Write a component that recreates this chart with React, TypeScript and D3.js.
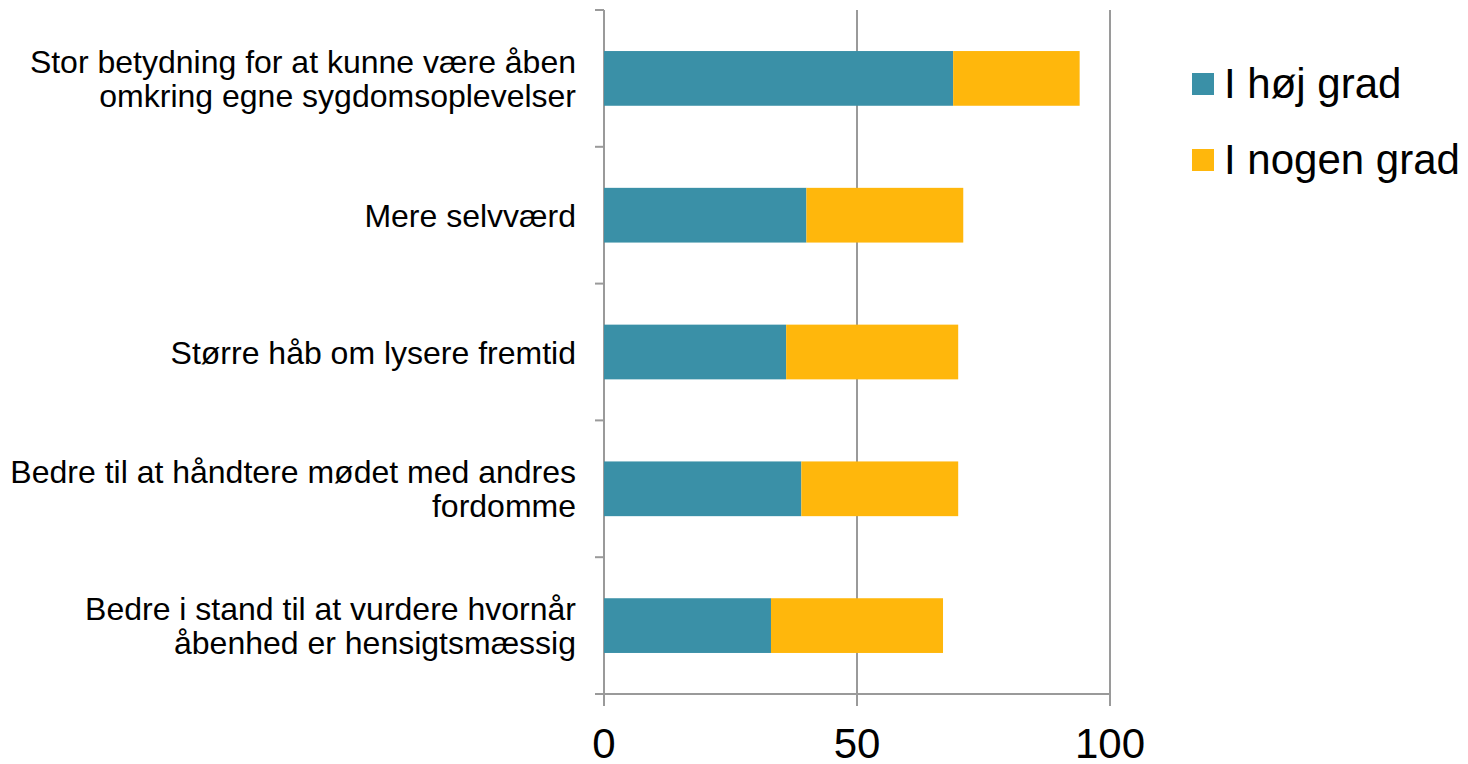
import React from "react";
import * as d3 from "d3";

const categories: string[][] = [
  ["Stor betydning for at kunne være åben", "omkring egne sygdomsoplevelser"],
  ["Mere selvværd"],
  ["Større håb om lysere fremtid"],
  ["Bedre til at håndtere mødet med andres", "fordomme"],
  ["Bedre i stand til at vurdere hvornår", "åbenhed er hensigtsmæssig"],
];
const hojGrad = [69, 40, 36, 39, 33];
const nogenGrad = [25, 31, 34, 31, 34];
const seriesNames = ["I høj grad", "I nogen grad"];
const seriesColors = ["#3A90A7", "#FFB70C"];
const xTicks = [0, 50, 100];

const W = 1468;
const H = 764;
const left = 604;
const right = 1110;
const top = 10;
const bottom = 694;
const FONT = "Liberation Sans, Arial, sans-serif";
const GRID = "#9a9a9a";

export default function App() {
  const x = d3.scaleLinear().domain([0, 100]).range([left, right]);
  const y = d3
    .scaleBand<number>()
    .domain(d3.range(categories.length))
    .range([top, bottom])
    .paddingInner(0.6)
    .paddingOuter(0.3);
  const band = (bottom - top) / categories.length;
  const boundaries = d3.range(categories.length + 1).map((i) => top + i * band);

  return (
    <svg
      width={W}
      height={H}
      style={{ position: "absolute", left: 0, top: 0, background: "#fff" }}
      fontFamily={FONT}
    >
      {/* gridlines */}
      {xTicks.map((t) => (
        <line key={"g" + t} x1={x(t)} x2={x(t)} y1={top} y2={bottom + 12} stroke={GRID} strokeWidth={2} />
      ))}
      {/* y axis ticks */}
      {boundaries.map((b, i) => (
        <line key={"yt" + i} x1={left - 9} x2={left} y1={b} y2={b} stroke={GRID} strokeWidth={2} />
      ))}
      {/* x axis line */}
      <line x1={left - 9} x2={right} y1={bottom} y2={bottom} stroke={GRID} strokeWidth={2} />
      {/* bars */}
      {categories.map((_, i) => {
        const y0 = y(i)!;
        const bh = y.bandwidth();
        return (
          <g key={"b" + i}>
            <rect x={x(0)} y={y0} width={x(hojGrad[i]) - x(0)} height={bh} fill={seriesColors[0]} />
            <rect
              x={x(hojGrad[i])}
              y={y0}
              width={x(hojGrad[i] + nogenGrad[i]) - x(hojGrad[i])}
              height={bh}
              fill={seriesColors[1]}
            />
          </g>
        );
      })}
      {/* category labels */}
      {categories.map((lines, i) => {
        const c = y(i)! + y.bandwidth() / 2;
        const lh = 34;
        const start = c - ((lines.length - 1) * lh) / 2;
        return (
          <text key={"c" + i} textAnchor="end" fontSize={32} fill="#000">
            {lines.map((l, j) => (
              <tspan key={j} x={576} y={start + j * lh} dy="0.36em">
                {l}
              </tspan>
            ))}
          </text>
        );
      })}
      {/* x tick labels */}
      {xTicks.map((t) => (
        <text key={"xl" + t} x={x(t)} y={758} textAnchor="middle" fontSize={42} fill="#000">
          {t}
        </text>
      ))}
      {/* legend */}
      {seriesNames.map((n, i) => (
        <g key={"l" + i} transform={`translate(1192, ${73 + i * 76})`}>
          <rect x={0} y={0} width={22} height={22} fill={seriesColors[i]} />
          <text x={32} y={11} dy="0.34em" fontSize={42} fill="#000">
            {n}
          </text>
        </g>
      ))}
    </svg>
  );
}
